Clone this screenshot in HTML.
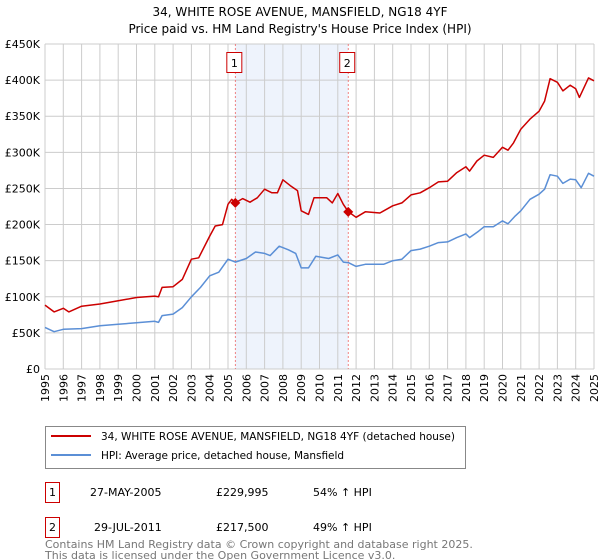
<!DOCTYPE html>
<html><head><meta charset="utf-8"><style>
body{margin:0;background:#fff;width:600px;height:560px;overflow:hidden;font-family:"DejaVu Sans","Liberation Sans",sans-serif;}
svg{display:block}
</style></head><body>
<svg id="c" width="600" height="560" xmlns="http://www.w3.org/2000/svg">
<text x="300" y="16" text-anchor="middle" font-size="12">34, WHITE ROSE AVENUE, MANSFIELD, NG18 4YF</text>
<text x="300" y="33" text-anchor="middle" font-size="12">Price paid vs. HM Land Registry's House Price Index (HPI)</text>
<g id="grid"></g><g id="plot"></g>
<g>
<rect x="45.5" y="426.5" width="420" height="42" fill="#fff" stroke="#888"/>
<line x1="51" y1="436" x2="91" y2="436" stroke="#cc0000" stroke-width="2"/>
<text x="101" y="440" font-size="10.5" textLength="354">34, WHITE ROSE AVENUE, MANSFIELD, NG18 4YF (detached house)</text>
<line x1="51" y1="455" x2="91" y2="455" stroke="#5b8fd6" stroke-width="2"/>
<text x="101" y="459" font-size="10.5" textLength="243">HPI: Average price, detached house, Mansfield</text>
</g>
<g font-size="11">
<rect x="45.5" y="482.5" width="14" height="20" fill="#fff" stroke="#cc0000"/>
<text x="52.5" y="496" text-anchor="middle">1</text>
<text x="90" y="496">27-MAY-2005</text><text x="216" y="496">£229,995</text><text x="313" y="496">54% ↑ HPI</text>
<rect x="45.5" y="517.5" width="14" height="20" fill="#fff" stroke="#cc0000"/>
<text x="52.5" y="531" text-anchor="middle">2</text>
<text x="94" y="531">29-JUL-2011</text><text x="216" y="531">£217,500</text><text x="313" y="531">49% ↑ HPI</text>
</g>
<text x="45" y="548" font-size="11" fill="#777">Contains HM Land Registry data © Crown copyright and database right 2025.</text>
<text x="45" y="559" font-size="11" fill="#777">This data is licensed under the Open Government Licence v3.0.</text>
</svg>
<script>
const yTicks=[0,50000,100000,150000,200000,250000,300000,350000,400000,450000];
const yLabels=["£0","£50K","£100K","£150K","£200K","£250K","£300K","£350K","£400K","£450K"];
const xYears=[1995,1996,1997,1998,1999,2000,2001,2002,2003,2004,2005,2006,2007,2008,2009,2010,2011,2012,2013,2014,2015,2016,2017,2018,2019,2020,2021,2022,2023,2024,2025];
const hpiT=[1995,1995.5,1996,1997,1998,1999,2000,2001,2001.2,2001.4,2002,2002.5,2003,2003.5,2004,2004.5,2005,2005.4,2006,2006.5,2007,2007.3,2007.8,2008.3,2008.7,2009,2009.4,2009.8,2010.5,2011,2011.3,2011.6,2012,2012.5,2013.5,2014,2014.5,2015,2015.5,2016,2016.5,2017,2017.5,2018,2018.2,2018.7,2019,2019.5,2020,2020.3,2020.7,2021,2021.5,2022,2022.3,2022.6,2023,2023.3,2023.7,2024,2024.3,2024.7,2025];
const hpiV=[57.6,51.6,55,56,60,62,64,66,64.5,74,76,85,100,113,129,134,152,148,153,162,160,157,170,165,160,140,140,156,153,158,148,147,142,145,145,150,152,164,166,170,175,176,182,187,182,191,197,197,205,201,212,219,235,242,249,269,267,257,263,262,251,271,267];
const propT=[1995,1995.5,1996,1996.3,1997,1998,1999,2000,2001,2001.2,2001.4,2002,2002.5,2003,2003.4,2004,2004.3,2004.7,2005,2005.2,2005.4,2005.8,2006.2,2006.6,2007,2007.4,2007.7,2008,2008.4,2008.8,2009,2009.4,2009.7,2010.4,2010.7,2011,2011.3,2011.57,2012,2012.5,2013.3,2014,2014.5,2015,2015.5,2016,2016.5,2017,2017.5,2018,2018.2,2018.6,2019,2019.5,2020,2020.3,2020.6,2021,2021.5,2022,2022.3,2022.6,2023,2023.3,2023.7,2024,2024.2,2024.7,2025];
const propV=[88.5,79,84,79,87,90,94.5,99,101,100,113,114,124,152,154,184,198,200,228,235,230,236,231,237,249,244,244,262,254,247,219,214,237,237,230,243,228,218,210,217.6,216,226,230,241,244,251,259,260,272,280,274,288,296,293,307,303,313,332,346,357,371,402,397,385,393,388,376,403,399];
const saleT=[2005.4,2011.57];
const saleV=[229.995,217.5];
const saleLabels=["1","2"];
const X0=45,X1=594,Y0=369,Y1=44;
const xs=t=>X0+(t-1995)/30*(X1-X0);
const ys=v=>Y0-v/450000*(Y0-Y1);
const NS="http://www.w3.org/2000/svg";
function mk(p,tag,a){const e=document.createElementNS(NS,tag);for(const k in a)e.setAttribute(k,a[k]);p.appendChild(e);return e;}
const g=document.getElementById('grid'),pl=document.getElementById('plot');
const sh=mk(g,'rect',{x:xs(saleT[0]),y:Y1,width:xs(saleT[1])-xs(saleT[0]),height:Y0-Y1,fill:'#eef3fc'});


yTicks.forEach((v,i)=>{
 const l=mk(g,'line',{x1:X0,x2:X1,y1:ys(v),y2:ys(v),stroke:'#ccc'});
 
 
 const t=mk(g,'text',{x:X0-5,y:ys(v)+4,'text-anchor':'end','font-size':11});
 
 
 t.textContent=yLabels[i];
});
xYears.forEach(y=>{
 const l=mk(g,'line',{x1:xs(y),x2:xs(y),y1:Y1,y2:Y0,stroke:'#ccc'});
 
 
 const t=mk(g,'text',{x:0,y:0,'font-size':11,'text-anchor':'end',transform:`translate(${xs(y)+4},${Y0+5}) rotate(-90)`});
 
 
 t.textContent=y;
});
saleT.forEach((t,i)=>{
 const l=mk(pl,'line',{x1:xs(t),x2:xs(t),y1:Y1,y2:Y0,stroke:'#e66','stroke-dasharray':'2,2','stroke-width':0.8});
 
 
});
function path(T,V,c,name){
 const d=T.map((t,i)=>(i?'L':'M')+xs(t).toFixed(1)+','+ys(V[i]*1000).toFixed(1)).join('');
 const p=mk(pl,'path',{d:d,fill:'none',stroke:c,'stroke-width':1.5,'stroke-linejoin':'round'});
 
 
}
path(hpiT,hpiV,'#5b8fd6','hpi-line');
path(propT,propV,'#cc0000','property-line');
saleT.forEach((t,i)=>{
 const x=xs(t),y=ys(saleV[i]*1000);
 const d=mk(pl,'path',{d:`M${x},${y-5}L${x+5},${y}L${x},${y+5}L${x-5},${y}Z`,fill:'#cc0000'});
 
 
 const r=mk(pl,'rect',{x:x-8.5,y:52.5,width:15,height:20,fill:'#fff',stroke:'#cc0000'});
 
 
 const tx=mk(pl,'text',{x:x-1,y:67,'text-anchor':'middle','font-size':11});
 
 
 tx.textContent=saleLabels[i];
});
</script>
</body></html>
